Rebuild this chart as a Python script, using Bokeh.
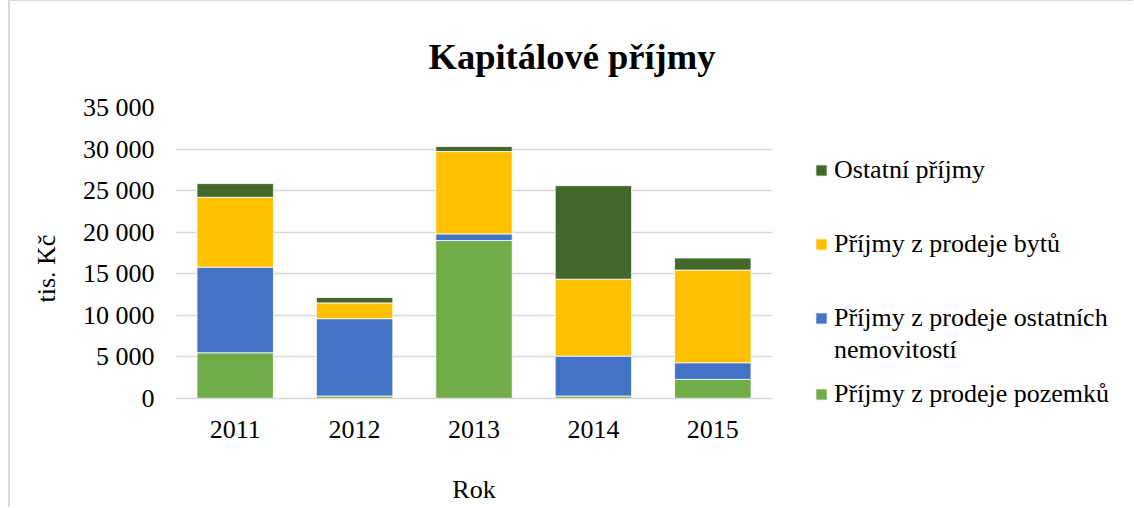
from bokeh.plotting import figure
from bokeh.layouts import row
from bokeh.models import (ColumnDataSource, FactorRange, Range1d, FixedTicker,
                          Legend, LegendItem, Title)
from bokeh.embed import file_html
from bokeh.resources import INLINE

# ---- data ----
years = ["2011", "2012", "2013", "2014", "2015"]
pozemky = [5500, 300, 19000, 300, 2300]          # Příjmy z prodeje pozemků
nemovitosti = [10300, 9300, 800, 4800, 2000]     # Příjmy z prodeje ostatních nemovitostí
byty = [8400, 1900, 9900, 9250, 11150]           # Příjmy z prodeje bytů
ostatni = [1650, 650, 600, 11250, 1450]          # Ostatní příjmy

y_ticks = [0, 5000, 10000, 15000, 20000, 25000, 30000, 35000]
y_tick_labels = ["0", "5 000", "10 000", "15 000", "20 000", "25 000", "30 000", "35 000"]

series_keys = ["pozemky", "nemovitosti", "byty", "ostatni"]
series_names = ["Příjmy z prodeje pozemků", "Příjmy z prodeje ostatních", "Příjmy z prodeje bytů",
                "Ostatní příjmy"]
series_colors = ["#70AD47", "#4472C4", "#FFC000", "#43682B"]

FONT = "Liberation Serif"

src = ColumnDataSource(dict(year=years, pozemky=pozemky, nemovitosti=nemovitosti,
                            byty=byty, ostatni=ostatni))

# ---------------- main chart ----------------
p = figure(width=790, height=506, output_backend="svg", toolbar_location=None,
           x_range=FactorRange(factors=years, range_padding=0),
           y_range=Range1d(0, 35000),
           min_border_left=165, min_border_right=28,
           min_border_top=106, min_border_bottom=109)

p.vbar_stack(series_keys, x="year", width=0.64, source=src,
             fill_color=series_colors, line_color="white", line_width=0.8)

p.title.text = "Kapitálové příjmy"
p.title.text_font = FONT
p.title.text_font_size = "36.5px"
p.title.text_font_style = "bold"
p.title.text_color = "black"
p.title.align = "left"
p.title.offset = 253
p.title.standoff = 62

p.outline_line_color = None
p.xgrid.grid_line_color = None
p.ygrid.grid_line_color = "#d9d9d9"
p.ygrid.grid_line_width = 1.5

p.yaxis.ticker = FixedTicker(ticks=y_ticks)
p.yaxis.major_label_overrides = {t: l for t, l in zip(y_ticks, y_tick_labels)}
p.yaxis.axis_line_color = None
p.yaxis.major_tick_line_color = None
p.yaxis.minor_tick_line_color = None
p.yaxis.major_tick_out = 0
p.yaxis.major_tick_in = 0
p.yaxis.major_label_standoff = 21
p.yaxis.major_label_text_font = FONT
p.yaxis.major_label_text_font_size = "26px"
p.yaxis.major_label_text_color = "black"

p.xaxis.axis_line_color = "#d9d9d9"
p.xaxis.axis_line_width = 1.5
p.xaxis.major_tick_line_color = None
p.xaxis.minor_tick_line_color = None
p.xaxis.major_tick_out = 0
p.xaxis.major_tick_in = 0
p.xaxis.major_label_standoff = 22
p.xaxis.major_label_text_font = FONT
p.xaxis.major_label_text_font_size = "26px"
p.xaxis.major_label_text_color = "black"
p.xaxis.axis_label = "Rok"
p.xaxis.axis_label_text_font = FONT
p.xaxis.axis_label_text_font_size = "26px"
p.xaxis.axis_label_text_font_style = "normal"
p.xaxis.axis_label_text_color = "black"
p.xaxis.axis_label_standoff = 34

ylab = Title(text="tis. Kč", align="left", offset=96, standoff=38,
             text_font=FONT, text_font_size="26px", text_font_style="normal",
             text_color="black")
p.add_layout(ylab, "left")

# ---------------- legend panel ----------------
lg = figure(width=333, height=506, output_backend="svg", toolbar_location=None,
            title=None, min_border=0, x_axis_location=None, y_axis_location=None)
lg.outline_line_color = None
lg.grid.visible = False
for fig in (p, lg):
    try:
        fig.frame_align = False
    except AttributeError:
        pass

# legend swatches: zero-height anchors (invisible), only their legend glyphs show
lr = {}
for key, col in zip(series_keys, series_colors):
    lr[key] = lg.vbar(x=[0], top=[0], width=0.64, fill_color=col, line_color="white",
                      line_width=0.8)
blank = lg.vbar(x=[0], top=[0], width=0.64, fill_alpha=0, line_alpha=0)
names = dict(zip(series_keys, series_names))

leg_kw = dict(padding=0, margin=0, border_line_alpha=0, background_fill_alpha=0,
              glyph_width=14, glyph_height=14, label_height=32, label_standoff=6,
              label_text_font=FONT, label_text_font_size="26px", label_text_color="black")
legA = Legend(items=[LegendItem(label=names["ostatni"], renderers=[lr["ostatni"]]),
                     LegendItem(label=names["byty"], renderers=[lr["byty"]]),
                     LegendItem(label=names["nemovitosti"], renderers=[lr["nemovitosti"]])],
              location=(14, 173), spacing=42, **leg_kw)
legB = Legend(items=[LegendItem(label="nemovitostí", renderers=[blank]),
                     LegendItem(label=names["pozemky"], renderers=[lr["pozemky"]])],
              location=(14, 97.5), spacing=12, **leg_kw)
lg.add_layout(legA)
lg.add_layout(legB)

layout = row(p, lg)
layout.styles = {"margin-left": "8px",
                 "border-top": "1px solid #d9d9d9", "border-left": "2px solid #d9d9d9"}

open("out.html", "w").write(file_html(layout, INLINE))
